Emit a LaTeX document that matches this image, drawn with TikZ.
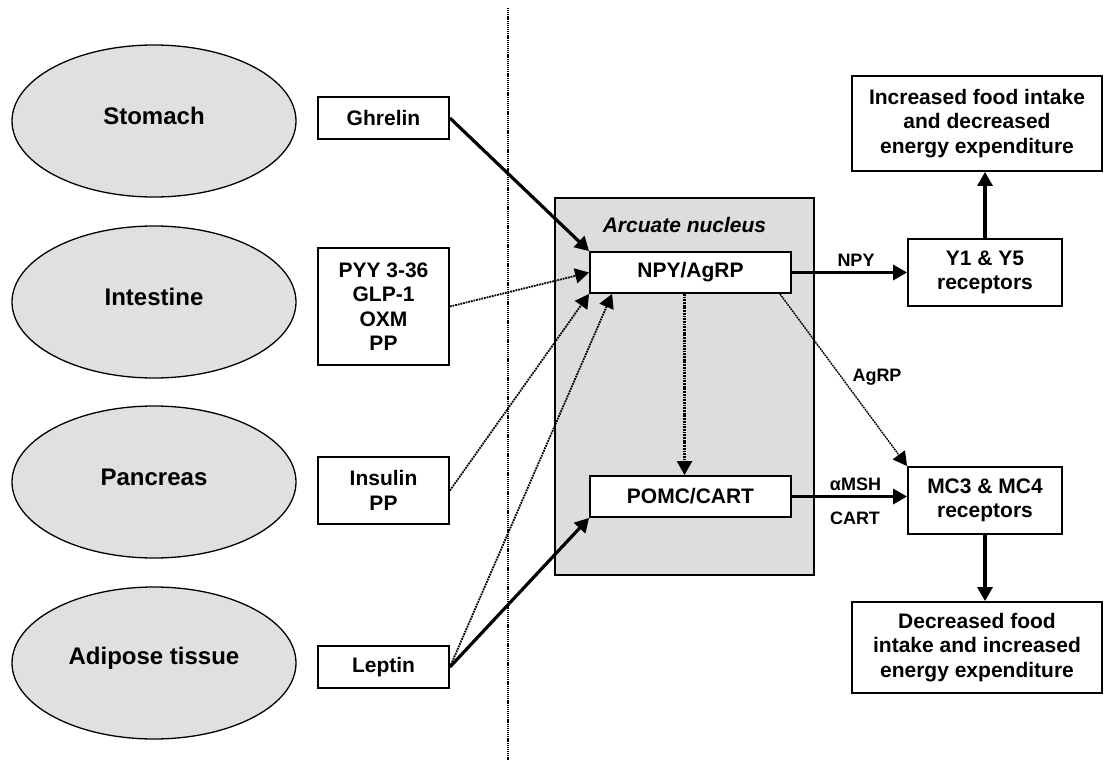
\documentclass[tikz,border=0pt]{standalone}
\usepackage{fontspec}
\setmainfont{Liberation Sans}
\usetikzlibrary{shapes.geometric,arrows.meta,calc}
\definecolor{organfill}{HTML}{E0E0E0}
\definecolor{nucleusfill}{HTML}{DDDDDD}
\tikzset{
  organ/.style={ellipse, draw, line width=1.3pt, fill=organfill,
    minimum width=284pt, minimum height=152pt, inner sep=0pt},
  organtext/.style={font=\fontsize{24}{28}\selectfont\bfseries},
  hormone/.style={rectangle, draw, line width=1.8pt, fill=white, align=center,
    inner sep=0pt, font=\fontsize{21}{24.5}\selectfont\bfseries},
  nucleus/.style={rectangle, draw, line width=1.8pt, fill=nucleusfill, inner sep=0pt},
  nucleustext/.style={font=\fontsize{21}{24}\selectfont\bfseries\itshape},
  flowlabel/.style={font=\fontsize{18}{21}\selectfont\bfseries, inner sep=0pt},
  tip/.style={-{Triangle[length=14pt,width=15pt]}},
  strong/.style={tip, line width=3.2pt},
  weak/.style={tip, line width=1.8pt, dash pattern=on 1.8pt off 0.9pt},
  faint/.style={tip, line width=1.4pt, dash pattern=on 1.8pt off 0.8pt},
  separator/.style={line width=1.3pt, dash pattern=on 1.1pt off 0.8pt}
}
\begin{document}
\begin{tikzpicture}[x=1pt,y=-1pt]
\useasboundingbox (0,0) rectangle (1104,760);

% hypothalamic nucleus (drawn first, so arrows cross over it)
\node[nucleus, minimum width=259pt, minimum height=377pt] (arcuate) at (684.5,386.5) {};
\node[nucleustext] (arclabel) at (684.5,225) {Arcuate nucleus};

% periphery / brain divide
\coordinate (septop) at (508,8);
\coordinate (sepbot) at (508,760);
\draw[separator] (septop) -- (sepbot);

% peripheral organs
\node[organ, label={[organtext, yshift=5pt]center:Stomach}] (stomach) at (154,121) {};
\node[organ, label={[organtext, yshift=5pt]center:Intestine}] (intestine) at (154,302) {};
\node[organ, label={[organtext, yshift=5pt]center:Pancreas}] (pancreas) at (154,482) {};
\node[organ, label={[organtext, yshift=5pt]center:Adipose tissue}] (adipose) at (154,663) {};

% circulating signals
\node[hormone, minimum width=131pt, minimum height=42pt] (ghrelin) at (383.5,118) {Ghrelin};
\node[hormone, minimum width=131pt, minimum height=117pt] (pyy) at (383.5,306.5) {PYY 3-36\\GLP-1\\OXM\\PP};
\node[hormone, minimum width=131pt, minimum height=67pt] (insulin) at (383.5,490.5) {Insulin\\PP};
\node[hormone, minimum width=131pt, minimum height=42pt] (leptin) at (383.5,667) {Leptin};

% neuron populations
\node[hormone, minimum width=201pt, minimum height=41pt] (npy) at (690.5,272.5) {NPY/AgRP};
\node[hormone, minimum width=201pt, minimum height=41pt] (pomc) at (690.5,496.5) {POMC/CART};

% receptors and outcomes
\node[hormone, minimum width=154pt, minimum height=67pt] (y1) at (985,272.5) {Y1 \& Y5\\receptors};
\node[hormone, minimum width=154pt, minimum height=67pt] (mc) at (985,500.5) {MC3 \& MC4\\receptors};
\node[hormone, minimum width=250pt, minimum height=95pt] (inc) at (977,123.5)
  {Increased food intake\\and decreased\\energy expenditure};
\node[hormone, minimum width=250pt, minimum height=91pt] (dec) at (977,647.5)
  {Decreased food\\intake and increased\\energy expenditure};

% inputs to the arcuate nucleus
\draw[strong] (ghrelin.east) -- (npy.north west);
\draw[weak] (pyy.east) -- (npy.west);
\draw[weak] (insulin.east) -- (npy.south west);
\draw[weak] (leptin.east) -- ([xshift=23pt]npy.south west);
\draw[strong] (leptin.east) -- (pomc.south west);

% within the nucleus
\draw[weak, line width=2.2pt] ([xshift=-6pt]npy.south) -- ([xshift=-6pt]pomc.north);

% outputs
\draw[strong] (npy.east) -- (npy.east -| y1.west);
\node[flowlabel] (lblnpy) at (856,260) {NPY};
\draw[faint] ([xshift=-12pt]npy.south east) -- (mc.north west);
\node[flowlabel] (lblagrp) at (877,377) {AgRP};
\draw[strong] (pomc.east) -- (pomc.east -| mc.west);
\node[flowlabel] (lblmsh) at (855.5,484) {αMSH};
\node[flowlabel] (lblcart) at (855,518) {CART};
\draw[strong] (y1.north) -- (y1.north |- inc.south);
\draw[strong] (mc.south) -- (mc.south |- dec.north);
\end{tikzpicture}
\end{document}
